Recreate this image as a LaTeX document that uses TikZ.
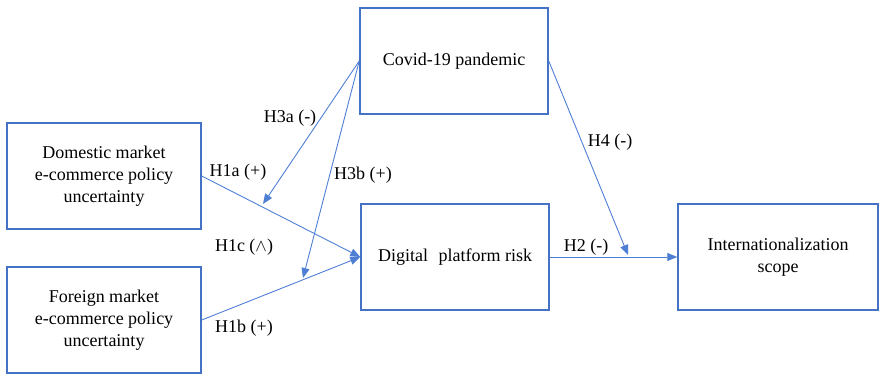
\documentclass[tikz,border=0pt]{standalone}
\usepackage{fontspec}
\setmainfont{Liberation Serif}
\usetikzlibrary{arrows.meta,calc}
\definecolor{boxblue}{HTML}{4472C4}
\definecolor{linkblue}{HTML}{4F7FD4}
\begin{document}
\begin{tikzpicture}[x=1pt,y=-1pt,
  every node/.style={font=\fontsize{18}{22}\selectfont},
  var/.style={draw=boxblue,line width=1.5pt,rectangle,align=center,
    minimum height=106pt,inner sep=2pt},
  link/.style={draw=linkblue,line width=0.9pt,
    -{Triangle[length=10pt,width=8pt]}},
  hyp/.style={inner sep=1pt}]
\useasboundingbox (0,0) rectangle (880,374);
% variables
\node[var,minimum width=188pt] (cov) at (454,61) {Covid-19 pandemic};
\node[var,minimum width=194pt] (dom) at (104,176) {Domestic market\\e-commerce policy\\uncertainty};
\node[var,minimum width=194pt] (for) at (104,320) {Foreign market\\e-commerce policy\\uncertainty};
\node[var,minimum width=188pt] (dig) at (455,257) {Digital\,\, platform risk};
\node[var,minimum width=200pt] (int) at (778,257) {Internationalization\\scope};
% moderation targets on the main paths
\coordinate (m1) at (263,204);
\coordinate (m2) at (303,278);
\coordinate (m4) at (628,255);
% main effects
\draw[link] (dom.east) -- (dig.west);
\draw[link] (for.east) -- (dig.west);
\draw[link] (dig.east) -- (int.west);
% moderating effects
\draw[link] (cov.west) -- (m1);
\draw[link] (cov.west) -- (m2);
\draw[link] (cov.east) -- (m4);
% hypothesis labels
\node[hyp] (l3a) at (290,118) {H3a (-)};
\node[hyp] (l1a) at (238,172) {H1a (+)};
\node[hyp] (l3b) at (363,175) {H3b (+)};
\node[hyp] (l1c) at (244,247) {H1c ($\wedge$)};
\node[hyp] (l1b) at (244,328) {H1b (+)};
\node[hyp] (l4) at (610,142) {H4 (-)};
\node[hyp] (l2) at (586,247) {H2 (-)};
\end{tikzpicture}
\end{document}
